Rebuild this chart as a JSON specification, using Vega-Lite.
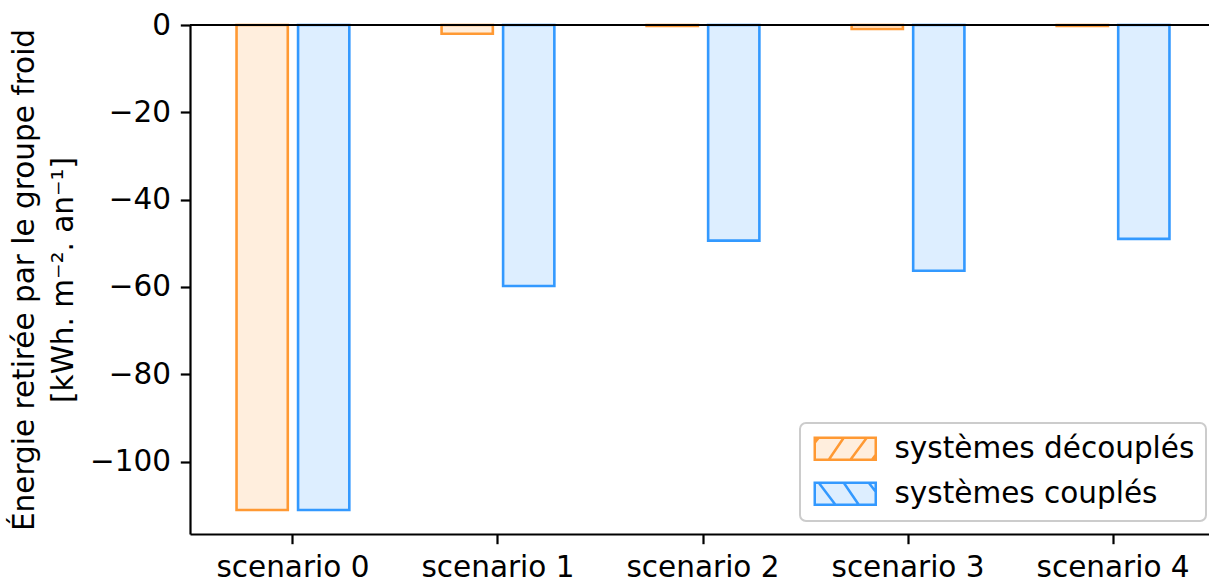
{
  "$schema": "https://vega.github.io/schema/vega-lite/v6.json",
  "autosize": {"type": "none"},
  "width": 1019,
  "height": 509,
  "padding": {"left": 190, "top": 25, "right": 0, "bottom": 47},
  "background": "white",
  "config": {
    "view": {"stroke": null},
    "font": "DejaVu Sans",
    "axis": {"labelFont": "DejaVu Sans", "titleFont": "DejaVu Sans", "labelColor": "black", "titleColor": "black", "domainColor": "black", "tickColor": "black", "domainWidth": 2.2, "tickWidth": 2.2, "tickSize": 9.7, "labelPadding": 9.7, "labelFontSize": 29.5, "titleFontSize": 29.5, "titleFontWeight": "normal", "grid": false},
    "legend": {"title": null, "orient": "none", "legendX": 610, "legendY": 398, "padding": 11,
               "fillColor": "white", "strokeColor": "#cccccc", "cornerRadius": 6,
               "labelFont": "DejaVu Sans", "labelFontSize": 29.5, "labelColor": "black", "labelLimit": 0,
               "symbolSize": 484, "symbolStrokeWidth": 2.5, "symbolFillColor": "white", "labelOffset": 54, "rowPadding": 12}
  },
  "data": {"values": [
    {"scenario": "scenario 0", "series": "systèmes découplés", "value": -111.1},
    {"scenario": "scenario 0", "series": "systèmes couplés", "value": -111.1},
    {"scenario": "scenario 1", "series": "systèmes découplés", "value": -2.0},
    {"scenario": "scenario 1", "series": "systèmes couplés", "value": -59.8},
    {"scenario": "scenario 2", "series": "systèmes découplés", "value": -0.2},
    {"scenario": "scenario 2", "series": "systèmes couplés", "value": -49.4},
    {"scenario": "scenario 3", "series": "systèmes découplés", "value": -0.9},
    {"scenario": "scenario 3", "series": "systèmes couplés", "value": -56.3},
    {"scenario": "scenario 4", "series": "systèmes découplés", "value": -0.2},
    {"scenario": "scenario 4", "series": "systèmes couplés", "value": -49.0}
  ]},
  "layer": [
    {
      "mark": {"type": "bar", "strokeWidth": 2.6},
      "encoding": {
        "x": {"field": "scenario", "type": "nominal", "scale": {"range": [0, 1026], "paddingInner": 0.45, "paddingOuter": 0.227},
              "axis": {"title": null, "labelAngle": 0, "labelBaseline": "top"}},
        "xOffset": {"field": "series", "type": "nominal", "scale": {"domain": ["systèmes découplés", "systèmes couplés"], "paddingInner": 0.167, "paddingOuter": 0}},
        "y": {"field": "value", "type": "quantitative",
              "scale": {"domain": [-116.6, 0], "nice": false, "zero": false},
              "axis": {"values": [-100, -80, -60, -40, -20, 0], "title": ["Énergie retirée par le groupe froid", "[kWh. m⁻². an⁻¹]"],
                       "titleX": -157, "titleY": 254.5, "titleAngle": 270, "titleAlign": "center", "titleBaseline": "alphabetic", "titleLineHeight": 39}},
        "color": {"field": "series", "type": "nominal",
                  "scale": {"domain": ["systèmes découplés", "systèmes couplés"], "range": ["#FFEEDD", "#DDEEFF"]},
                  "legend": {"encode": {
                                "legend": {"update": {"strokeWidth": {"value": 2}}},
                                "symbols": {"update": {
                                  "shape": {"signal": "datum.value === 'systèmes découplés' ? 'M-1,-1H4.545V1H-1Z M0.273,1L1.636,-1 M2.245,1L3.727,-1 M-1,-0.545L-0.636,-1 M4.2,1L4.545,0.545' : 'M-1,-1H4.545V1H-1Z M-0.636,-1L0.882,1 M1.636,-1L3,1 M3.909,-1L4.545,-0.182'"},
                                  "fill": {"value": "white"},
                                  "stroke": {"scale": "stroke", "field": "value"},
                                  "strokeWidth": {"value": 2.5}
                                }}
                              }}},
        "stroke": {"field": "series", "type": "nominal",
                   "scale": {"domain": ["systèmes découplés", "systèmes couplés"], "range": ["#FF9933", "#3399FF"]},
                   "legend": {"encode": {
                                "legend": {"update": {"strokeWidth": {"value": 2}}},
                                "symbols": {"update": {
                                  "shape": {"signal": "datum.value === 'systèmes découplés' ? 'M-1,-1H4.545V1H-1Z M0.273,1L1.636,-1 M2.245,1L3.727,-1 M-1,-0.545L-0.636,-1 M4.2,1L4.545,0.545' : 'M-1,-1H4.545V1H-1Z M-0.636,-1L0.882,1 M1.636,-1L3,1 M3.909,-1L4.545,-0.182'"},
                                  "fill": {"value": "white"},
                                  "stroke": {"scale": "stroke", "field": "value"},
                                  "strokeWidth": {"value": 2.5}
                                }}
                              }}}
      }
    },
    {
      "mark": {"type": "rule", "color": "black", "strokeWidth": 2.2},
      "encoding": {"y": {"datum": 0}}
    }
  ]
}
